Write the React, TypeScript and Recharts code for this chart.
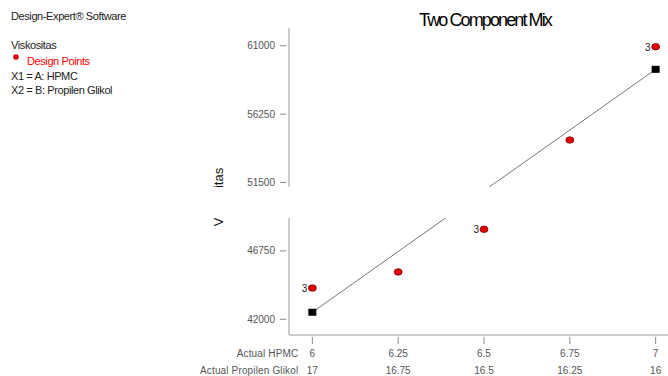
import React from "react"
import { ComposedChart, Scatter, XAxis, YAxis } from "recharts"

// axis ticks
const hpmcTicks = [6, 6.25, 6.5, 6.75, 7]
const propilenTicks = ["17", "16.75", "16.5", "16.25", "16"]
const viskositasTicks = [42000, 46750, 51500, 56250, 61000]

// design points (actual runs)
const designHpmc = [6, 6.25, 6.5, 6.75, 7]
const designViskositas = [44170, 45290, 48250, 54450, 60930]
const designReplicates = [3, 1, 3, 1, 3]

// fitted model line
const modelHpmc = [6, 7]
const modelViskositas = [42490, 59360]

const designData = designHpmc.map((x, i) => ({ x, y: designViskositas[i], n: designReplicates[i] }))
const modelData = modelHpmc.map((x, i) => ({ x, y: modelViskositas[i] }))

const axisGray = "#9a9a9a"
const labelGray = "#555"

function HpmcTick(props: any) {
  const { x, y, payload, index } = props
  return (
    <g>
      <line x1={x} x2={x} y1={y + 2} y2={y + 9} stroke="#888" />
      <text x={x} y={y + 22} textAnchor="middle" fontSize={10} fill={labelGray}>
        {payload.value}
      </text>
      <text x={x} y={y + 39} textAnchor="middle" fontSize={10} fill={labelGray}>
        {propilenTicks[index]}
      </text>
      {index === 0 && (
        <>
          <text x={x - 14} y={y + 22} textAnchor="end" fontSize={10} fill={labelGray} letterSpacing={0.15}>
            Actual HPMC
          </text>
          <text x={x - 14} y={y + 39} textAnchor="end" fontSize={10} fill={labelGray} letterSpacing={0.15}>
            Actual Propilen Glikol
          </text>
        </>
      )}
    </g>
  )
}

function ViskoTick(props: any) {
  const { x, y, payload } = props
  return (
    <g>
      <line x1={x - 9} x2={x - 3} y1={y} y2={y} stroke="#888" />
      <text x={x - 14} y={y + 3.5} textAnchor="end" fontSize={10} fill={labelGray}>
        {payload.value}
      </text>
    </g>
  )
}

function DesignPoint(props: any) {
  const { cx, cy, payload } = props
  return (
    <g>
      {payload.n > 1 && (
        <text x={cx - 5} y={cy + 4} textAnchor="end" fontSize={10} fill="#222">
          {payload.n}
        </text>
      )}
      <ellipse cx={cx} cy={cy} rx={4} ry={3.3} fill="#e50000" stroke="#6a0000" strokeWidth={0.7} />
    </g>
  )
}

function ModelPoint(props: any) {
  const { cx, cy } = props
  return <rect x={cx - 4} y={cy - 3.5} width={8} height={7} fill="#000" />
}

export default function App() {
  return (
    <div
      style={{
        position: "absolute",
        left: 0,
        top: 0,
        width: 668,
        height: 376,
        background: "#fff",
        fontFamily: "'Liberation Sans', Arial, sans-serif",
        overflow: "hidden",
      }}
    >
      <ComposedChart width={668} height={376} margin={{ top: 28, right: 0, bottom: 0, left: 0 }}>
        <XAxis
          dataKey="x"
          type="number"
          domain={[5.932, 7.036]}
          ticks={hpmcTicks}
          allowDataOverflow
          height={41}
          tickSize={0}
          tickMargin={0}
          tickLine={false}
          axisLine={{ stroke: axisGray }}
          tick={<HpmcTick />}
        />
        <XAxis
          xAxisId="top"
          orientation="top"
          type="number"
          domain={[5.932, 7.036]}
          height={0}
          tick={false}
          tickLine={false}
          axisLine={{ stroke: axisGray }}
        />
        <YAxis
          dataKey="y"
          type="number"
          domain={[40910, 62230]}
          ticks={viskositasTicks}
          allowDataOverflow
          width={289}
          tickSize={0}
          tickMargin={0}
          tickLine={false}
          axisLine={{ stroke: axisGray }}
          tick={<ViskoTick />}
        />
        <Scatter
          data={modelData}
          line={{ stroke: "#777", strokeWidth: 1 }}
          shape={<ModelPoint />}
          isAnimationActive={false}
        />
        <Scatter data={designData} shape={<DesignPoint />} isAnimationActive={false} />
      </ComposedChart>

      <svg
        width={668}
        height={376}
        style={{ position: "absolute", left: 0, top: 0, pointerEvents: "none" }}
      >
        <g fontSize={11} fill="#222" letterSpacing={-0.4}>
          <text x={11} y={20}>Design-Expert® Software</text>
          <text x={11} y={49}>Viskositas</text>
          <circle cx={16} cy={57} r={2.8} fill="#e50000" />
          <text x={27} y={65} fill="#ff0000">Design Points</text>
          <text x={11} y={80}>X1 = A: HPMC</text>
          <text x={11} y={94}>X2 = B: Propilen Glikol</text>
        </g>
        <text x={485} y={26} textAnchor="middle" fontSize={18} letterSpacing={-1.9} fill="#000">
          Two Component Mix
        </text>
        <text
          x={223}
          y={197}
          textAnchor="middle"
          fontSize={13}
          fill="#111"
          transform="rotate(-90 223 197)"
        >
          Viskositas
        </text>
        <rect x={195} y={187} width={473} height={31} fill="#fff" />
      </svg>
    </div>
  )
}
